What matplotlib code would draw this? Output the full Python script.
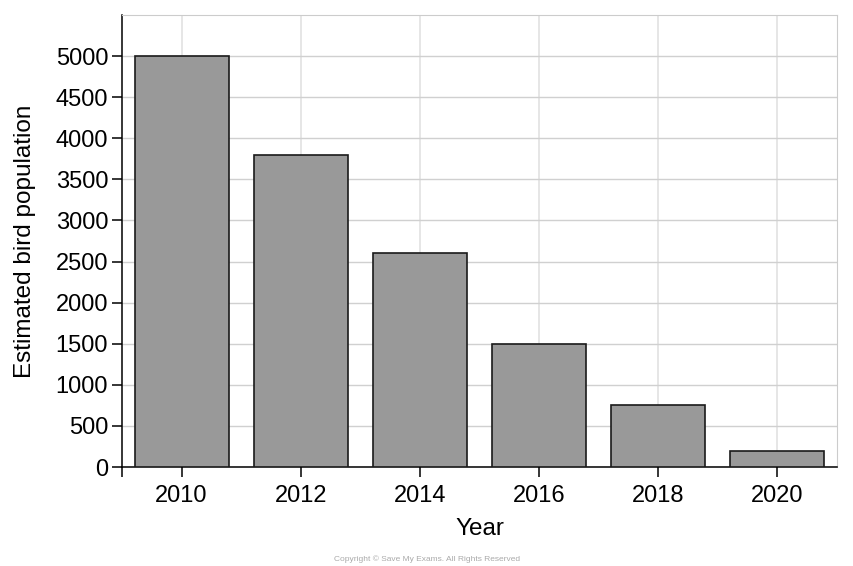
import matplotlib.pyplot as plt

plt.rcParams['font.family'] = ['Liberation Sans', 'DejaVu Sans']

years = [2010, 2012, 2014, 2016, 2018, 2020]
population = [5000, 3800, 2600, 1500, 760, 200]
yticks = list(range(0, 5001, 500))

fig = plt.figure(figsize=(8.54, 5.66), dpi=100)
ax = fig.add_axes([122/854, 1-467/566, (837-122)/854, (467-15)/566])

ax.bar(years, population, width=1.58, color='#999999', edgecolor='#1a1a1a', linewidth=1.2, zorder=3)

ax.set_xlim(2009, 2021)
ax.set_ylim(0, 5500)
ax.set_xticks(years)
ax.set_xticks([2009], minor=True)
ax.set_yticks(yticks)

ax.grid(True, which='major', axis='y', color='#d0d0d0', linewidth=1, zorder=0)
ax.grid(True, which='major', axis='x', color='#e2e2e2', linewidth=1.2, zorder=0)

for s in ['top', 'right']:
    ax.spines[s].set_color('#cccccc')
for s in ['left', 'bottom']:
    ax.spines[s].set_color('black')
    ax.spines[s].set_linewidth(1.1)

ax.tick_params(which='both', direction='out', length=7, width=1.1, labelsize=17)
ax.tick_params(axis='x', which='both', pad=6)
ax.tick_params(axis='y', pad=3)

ax.set_xlabel('Year', fontsize=17.5, labelpad=8)
ax.set_ylabel('Estimated bird population', fontsize=17.5, labelpad=14)

fig.text(427/854, 1-559/566, 'Copyright © Save My Exams. All Rights Reserved',
         ha='center', va='center', fontsize=6, color='#aaaaaa')

fig.savefig('out.png', dpi=100)
